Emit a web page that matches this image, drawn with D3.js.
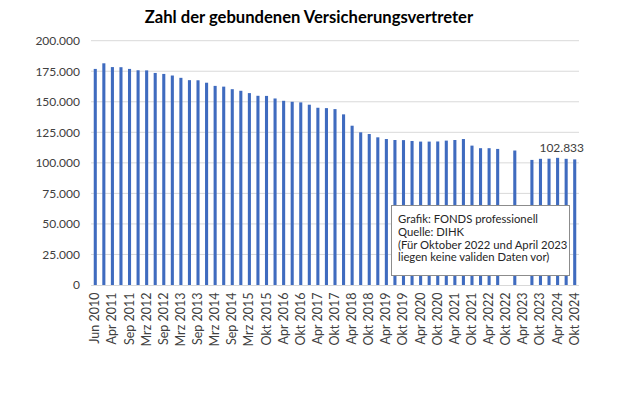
<!DOCTYPE html>
<html><head><meta charset="utf-8">
<script src="https://cdn.jsdelivr.net/npm/d3@7"></script>
<style>body{margin:0;background:#fff}svg{display:block}</style>
</head><body>
<svg id="c" width="620" height="413"></svg>
<script>
const categories = ["Jun 2010","Nov 2010","Apr 2011","Jul 2011","Sep 2011","Dez 2011","Mrz 2012","Jun 2012","Sep 2012","Dez 2012","Mrz 2013","Jun 2013","Sep 2013","Dez 2013","Mrz 2014","Jun 2014","Sep 2014","Dez 2014","Mrz 2015","Jul 2015","Okt 2015","Jan 2016","Apr 2016","Jul 2016","Okt 2016","Jan 2017","Apr 2017","Jul 2017","Okt 2017","Jan 2018","Apr 2018","Jul 2018","Okt 2018","Jan 2019","Apr 2019","Jul 2019","Okt 2019","Jan 2020","Apr 2020","Jul 2020","Okt 2020","Jan 2021","Apr 2021","Jul 2021","Okt 2021","Jan 2022","Apr 2022","Jul 2022","Okt 2022","Jan 2023","Apr 2023","Jul 2023","Okt 2023","Jan 2024","Apr 2024","Jul 2024","Okt 2024"];
const values = [176900,181500,178400,178300,176900,175800,175700,173600,172800,171500,169600,167700,167600,165600,163000,162400,160300,159000,157100,154900,154800,152700,150800,150000,149500,147600,145100,144800,144000,139700,130400,125000,123600,120900,119500,118700,118600,117900,117400,117400,117500,118200,118700,119500,114100,112000,112000,111400,null,110100,null,102400,103300,103400,104100,103300,102833];
const yTicks = [0,25000,50000,75000,100000,125000,150000,175000,200000];
const title = "Zahl der gebundenen Versicherungsvertreter";
const noteLines = ["Grafik: FONDS professionell","Quelle: DIHK","(Für Oktober 2022 und April 2023","liegen keine validen Daten vor)"];
const lastLabel = "102.833";

const svg = d3.select("#c");
const font = "Lato, 'Open Sans', sans-serif";
const mLeft = 91, mRight = 579, mTop = 40.7, mBottom = 285;

const x = d3.scaleBand().domain(categories).range([mLeft, mRight]).paddingInner(0.64).paddingOuter(0.32);
const y = d3.scaleLinear().domain([0, 200000]).range([mBottom, mTop]);
const fmt = d3.formatLocale({decimal:",", thousands:".", grouping:[3], currency:["","€"]}).format(",d");

svg.append("text").attr("x", 309).attr("y", 22.5).attr("text-anchor","middle")
  .attr("font-family", font).attr("font-weight","bold").attr("font-size", 16.6).attr("fill","#000").text(title);

// gridlines
svg.append("g").selectAll("line").data(yTicks.filter(d=>d>0)).join("line")
  .attr("x1", mLeft).attr("x2", mRight).attr("y1", d=>y(d)).attr("y2", d=>y(d))
  .attr("stroke","#d9d9d9").attr("stroke-width",1);

// y axis
const yAxis = svg.append("g").attr("transform",`translate(${mLeft-11},0)`)
  .call(d3.axisLeft(y).tickValues(yTicks).tickFormat(d=>fmt(d)).tickSize(0).tickPadding(0));
yAxis.select(".domain").remove();
yAxis.selectAll("text").attr("font-family", font).attr("font-size", 12).attr("fill","#404040");

// bars
const bw = Math.max(3, x.bandwidth());
svg.append("g").selectAll("rect").data(categories.map((c,i)=>({c, v: values[i]})).filter(d=>d.v!==null)).join("rect")
  .attr("x", d=>x(d.c) + x.bandwidth()/2 - bw/2).attr("width", bw)
  .attr("y", d=>y(d.v)).attr("height", d=>y(0)-y(d.v)).attr("fill","#3F6BBF");

// baseline
svg.append("line").attr("x1", mLeft).attr("x2", mRight).attr("y1", y(0)+0.5).attr("y2", y(0)+0.5).attr("stroke","#d9d9d9");

// x axis
const xAxis = svg.append("g").attr("transform",`translate(0,${mBottom})`)
  .call(d3.axisBottom(x).tickValues(categories.filter((d,i)=>i%2===0)).tickSize(0).tickPadding(0));
xAxis.select(".domain").remove();
xAxis.selectAll("text").attr("font-family", font).attr("font-size", 12.5).attr("fill","#404040")
  .attr("text-anchor","end").attr("dy", null).attr("y", 0)
  .attr("transform","translate(4,7.5) rotate(-90)");

// data label
const lastCat = categories[categories.length-1];
svg.append("text").attr("x", x(lastCat) + x.bandwidth()/2 - 13).attr("y", y(values[values.length-1]) - 7)
  .attr("text-anchor","middle").attr("font-family", font).attr("font-size", 12).attr("fill","#404040").text(lastLabel);

// note box
const note = svg.append("g");
note.append("rect").attr("x", 391.5).attr("y", 205.5).attr("width", 178).attr("height", 70)
  .attr("fill","#fff").attr("stroke","#8c8c8c").attr("stroke-width",1);
note.selectAll("text").data(noteLines).join("text")
  .attr("x", 398).attr("y", (d,i)=>223 + i*12.8)
  .attr("font-family", font).attr("font-size", 11.3).attr("fill","#262626").text(d=>d);
</script>
</body></html>
